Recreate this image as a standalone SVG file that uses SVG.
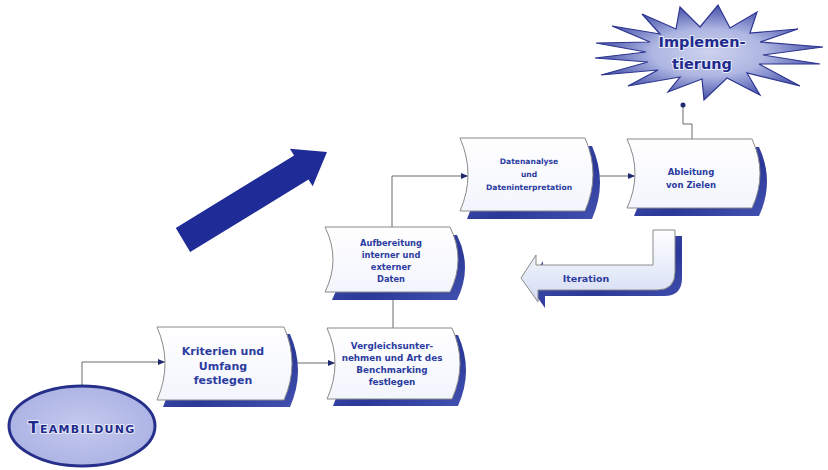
<svg xmlns="http://www.w3.org/2000/svg" width="828" height="470" viewBox="0 0 828 470">
  <defs>
    <style>
      .box{fill:url(#boxFill);stroke:#8a8a8a;stroke-width:1}
      .shadow{fill:url(#shadowFill)}
      .lbl{font-family:"DejaVu Sans","Liberation Sans",sans-serif;font-weight:bold;fill:#2c3ca0;text-anchor:middle}
      .conn{fill:none;stroke:#6a6a6a;stroke-width:1}
      .halo{paint-order:stroke;stroke:#e8ebfa;stroke-width:2;stroke-linejoin:round}
    </style>
    <linearGradient id="boxFill" x1="0" y1="0" x2="0" y2="1">
      <stop offset="0" stop-color="#ffffff"/>
      <stop offset="1" stop-color="#f3f5fd"/>
    </linearGradient>
    <linearGradient id="shadowFill" x1="0" y1="0" x2="1" y2="1">
      <stop offset="0" stop-color="#5563bd"/>
      <stop offset="0.6" stop-color="#2b3898"/>
      <stop offset="1" stop-color="#4352b0"/>
    </linearGradient>
    <linearGradient id="iterFill" x1="0" y1="0" x2="0" y2="1">
      <stop offset="0" stop-color="#ffffff"/>
      <stop offset="1" stop-color="#d4dcf4"/>
    </linearGradient>
    <radialGradient id="starFill" cx="0.5" cy="0.5" r="0.55">
      <stop offset="0" stop-color="#cdd2ee"/>
      <stop offset="0.45" stop-color="#aeb6e2"/>
      <stop offset="1" stop-color="#2f3c9e"/>
    </radialGradient>
    <radialGradient id="ellFill" cx="0.5" cy="0.5" r="0.6">
      <stop offset="0" stop-color="#c4c9ee"/>
      <stop offset="1" stop-color="#a9b0e2"/>
    </radialGradient>
    <marker id="arr" markerWidth="7" markerHeight="6" refX="7" refY="3" orient="auto" markerUnits="userSpaceOnUse">
      <path d="M0,0 L7,3 L0,6 Z" fill="#1f2a6e"/>
    </marker>
    <marker id="dot" markerWidth="6" markerHeight="6" refX="3" refY="3" markerUnits="userSpaceOnUse">
      <circle cx="3" cy="3" r="2.5" fill="#1f2a6e"/>
    </marker>
  </defs>

  <rect width="828" height="470" fill="#ffffff"/>

  <!-- big direction arrow -->
  <g id="bigArrow">
    <polygon points="175.8,228 294.1,155.5 289.9,148.7 327,152 312.7,186.3 308.5,179.5 190.2,252" fill="#1f2b96"/>
  </g>

  <!-- connectors -->
  <g id="connectors">
    <path class="conn" d="M82,386 V362 H165" marker-end="url(#arr)"/>
    <path class="conn" d="M293,363 H335" marker-end="url(#arr)"/>
    <path class="conn" d="M393,292 V328"/>
    <path class="conn" d="M392,227 V176 H468" marker-end="url(#arr)"/>
    <path class="conn" d="M593,176 H635" marker-end="url(#arr)"/>
    <path class="conn" d="M692,139 V124 H683 V105" marker-end="url(#dot)"/>
  </g>

  <!-- Implementierung star -->
  <g id="implementierung">
    <polygon fill="url(#starFill)" stroke="#2d3590" stroke-width="1.2" stroke-linejoin="miter"
      points="596,43 650,42 612,26 660,34 642,14 676,29 680,7 700,27 718,5 730,28 757,12 750,33 798,29 760,42 823,47 763,55 820,64 759,64 800,86 747,73 760,95 727,78 704,100 702,79 668,92 680,77 628,86 658,70 601,75 648,62 595,58 646,52"/>
    <text class="halo" x="702" y="47" font-family="DejaVu Sans, Liberation Sans, sans-serif" font-weight="bold" font-size="14.5" fill="#1e2a8c" text-anchor="middle">Implemen-</text>
    <text class="halo" x="702" y="69" font-family="DejaVu Sans, Liberation Sans, sans-serif" font-weight="bold" font-size="14.5" fill="#1e2a8c" text-anchor="middle">tierung</text>
  </g>

  <!-- Teambildung -->
  <g id="teambildung">
    <ellipse cx="82" cy="426" rx="73" ry="40" fill="url(#ellFill)" stroke="#26308a" stroke-width="3"/>
    <text class="halo" x="82" y="433" font-family="DejaVu Sans, Liberation Sans, sans-serif" font-weight="bold" fill="#1e2a8c" text-anchor="middle" letter-spacing="1.3"><tspan font-size="15">T</tspan><tspan font-size="11">EAMBILDUNG</tspan></text>
  </g>

  <!-- Node 1 -->
  <g id="kriterien">
    <path class="shadow" transform="translate(6,7)" d="M157,327 H284 Q300,363.5 284,400 H157 Q173,363.5 157,327 Z"/>
    <path class="box" d="M157,327 H284 Q300,363.5 284,400 H157 Q173,363.5 157,327 Z"/>
    <text class="lbl" font-size="11"><tspan x="223" y="355">Kriterien und</tspan><tspan x="223" y="369.5">Umfang</tspan><tspan x="223" y="384">festlegen</tspan></text>
  </g>

  <!-- Node 2 -->
  <g id="vergleich">
    <path class="shadow" transform="translate(6,7)" d="M327,328 H452 Q468,363.5 452,399 H327 Q343,363.5 327,328 Z"/>
    <path class="box" d="M327,328 H452 Q468,363.5 452,399 H327 Q343,363.5 327,328 Z"/>
    <text class="lbl" font-size="8.8"><tspan x="392" y="349">Vergleichsunter-</tspan><tspan x="392" y="361">nehmen und Art des</tspan><tspan x="392" y="373">Benchmarking</tspan><tspan x="392" y="385">festlegen</tspan></text>
  </g>

  <!-- Node 3 -->
  <g id="aufbereitung">
    <path class="shadow" transform="translate(7,8)" d="M325,227 H450 Q466,259.5 450,292 H325 Q341,259.5 325,227 Z"/>
    <path class="box" d="M325,227 H450 Q466,259.5 450,292 H325 Q341,259.5 325,227 Z"/>
    <text class="lbl" font-size="8.3"><tspan x="391" y="246">Aufbereitung</tspan><tspan x="391" y="258">interner und</tspan><tspan x="391" y="270">externer</tspan><tspan x="391" y="282">Daten</tspan></text>
  </g>

  <!-- Node 4 -->
  <g id="datenanalyse">
    <path class="shadow" transform="translate(7,8)" d="M460,138 H585 Q601,174.5 585,211 H460 Q476,174.5 460,138 Z"/>
    <path class="box" d="M460,138 H585 Q601,174.5 585,211 H460 Q476,174.5 460,138 Z"/>
    <text class="lbl" font-size="7.6"><tspan x="529" y="164">Datenanalyse</tspan><tspan x="529" y="177">und</tspan><tspan x="529" y="190">Dateninterpretation</tspan></text>
  </g>

  <!-- Node 5 -->
  <g id="ableitung">
    <path class="shadow" transform="translate(7,8)" d="M627,139 H752 Q768,173.5 752,208 H627 Q643,173.5 627,139 Z"/>
    <path class="box" d="M627,139 H752 Q768,173.5 752,208 H627 Q643,173.5 627,139 Z"/>
    <text class="lbl" font-size="8.5"><tspan x="691" y="175">Ableitung</tspan><tspan x="691" y="188">von Zielen</tspan></text>
  </g>

  <!-- Iteration arrow -->
  <g id="iteration">
    <path class="shadow" transform="translate(7,6)" d="M653,230 H675 V272 Q675,290 657,290 H538 V302 L521,278 L536,255 V265 H653 Z"/>
    <path d="M653,230 H675 V272 Q675,290 657,290 H538 V302 L521,278 L536,255 V265 H653 Z" fill="url(#iterFill)" stroke="#8a8a8a" stroke-width="1"/>
    <text class="lbl" font-size="9.5" x="586" y="281.5">Iteration</text>
  </g>
</svg>
